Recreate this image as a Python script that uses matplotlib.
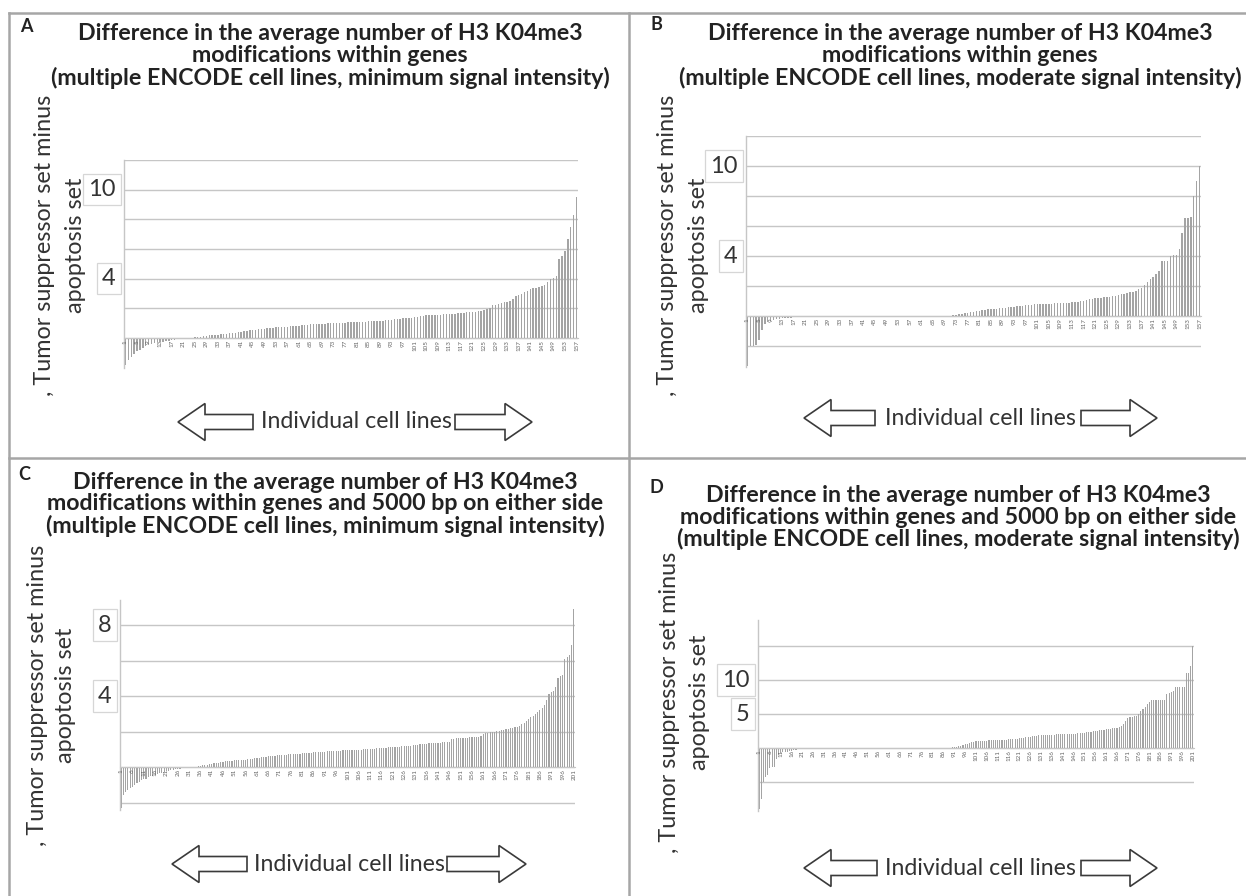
import matplotlib
matplotlib.use('Agg')
import matplotlib.pyplot as plt
from matplotlib.patches import Polygon
from matplotlib.lines import Line2D

W, H = 1246, 896
plt.rcParams['font.family'] = ['Lato', 'DejaVu Sans']

# --- data (sorted differences per cell line) ---
vals_a = [
    -1.8, -1.5, -1.25, -1.05, -0.9, -0.78, -0.65, -0.55, -0.45, -0.38,
    -0.33, -0.3, -0.27, -0.24, -0.21, -0.18, -0.15, -0.12, -0.09, -0.07,
    -0.05, -0.03, -0.01, 0.02, 0.05, 0.08, 0.1, 0.12, 0.15, 0.17,
    0.19, 0.21, 0.23, 0.25, 0.27, 0.29, 0.31, 0.33, 0.36, 0.39,
    0.42, 0.45, 0.48, 0.51, 0.54, 0.57, 0.6, 0.62, 0.64, 0.66,
    0.68, 0.7, 0.72, 0.73, 0.74, 0.76, 0.77, 0.78, 0.8, 0.82,
    0.84, 0.86, 0.88, 0.9, 0.92, 0.93, 0.94, 0.95, 0.96, 0.97,
    0.98, 0.99, 1.0, 1.01, 1.02, 1.03, 1.04, 1.05, 1.06, 1.07,
    1.08, 1.09, 1.1, 1.11, 1.12, 1.13, 1.14, 1.15, 1.16, 1.18,
    1.2, 1.22, 1.24, 1.26, 1.28, 1.3, 1.32, 1.34, 1.36, 1.38,
    1.4, 1.43, 1.46, 1.49, 1.52, 1.54, 1.55, 1.56, 1.57, 1.58,
    1.59, 1.6, 1.61, 1.63, 1.65, 1.67, 1.69, 1.71, 1.72, 1.74,
    1.76, 1.78, 1.8, 1.85, 1.9, 1.95, 2.0, 2.2, 2.25, 2.3,
    2.35, 2.4, 2.45, 2.5, 2.6, 2.85, 2.9, 2.95, 3.1, 3.2,
    3.3, 3.35, 3.4, 3.45, 3.5, 3.55, 3.8, 3.95, 4.05, 4.2,
    5.3, 5.5, 5.9, 6.7, 7.5, 8.3, 9.5,
]
vals_b = [
    -3.3, -2.0, -2.0, -1.95, -1.6, -0.95, -0.5, -0.38, -0.3, -0.25,
    -0.22, -0.18, -0.15, -0.13, -0.12, -0.1, -0.08, -0.06, -0.05, -0.04,
    -0.03, -0.03, -0.02, -0.02, -0.02, -0.02, -0.01, -0.01, -0.01, -0.01,
    -0.01, -0.01, -0.01, -0.01, -0.01, -0.01, -0.01, -0.01, -0.01, -0.01,
    -0.01, -0.01, -0.01, -0.01, -0.01, -0.01, -0.01, -0.01, -0.01, -0.01,
    0.0, 0.0, 0.0, 0.0, 0.0, 0.0, 0.0, 0.0, 0.0, 0.0,
    0.0, 0.0, 0.0, 0.0, 0.0, 0.0, 0.0, 0.0, 0.0, 0.01,
    0.02, 0.05, 0.1, 0.13, 0.16, 0.19, 0.22, 0.25, 0.28, 0.32,
    0.36, 0.4, 0.42, 0.44, 0.46, 0.48, 0.5, 0.52, 0.53, 0.55,
    0.57, 0.6, 0.63, 0.66, 0.68, 0.7, 0.72, 0.74, 0.75, 0.77,
    0.78, 0.79, 0.8, 0.81, 0.82, 0.83, 0.84, 0.85, 0.87, 0.88,
    0.89, 0.9, 0.92, 0.93, 0.95, 0.98, 1.02, 1.08, 1.14, 1.16,
    1.18, 1.2, 1.22, 1.24, 1.27, 1.3, 1.33, 1.36, 1.4, 1.44,
    1.48, 1.52, 1.57, 1.62, 1.68, 1.8, 1.9, 2.1, 2.3, 2.45,
    2.6, 2.8, 3.0, 3.65, 3.65, 3.7, 4.0, 4.05, 4.1, 4.45,
    5.5, 6.5, 6.55, 6.6, 8.0, 9.0, 10.0,
]
vals_c = [
    -2.3, -1.6, -1.4, -1.3, -1.2, -1.1, -1.0, -0.9, -0.82, -0.75,
    -0.7, -0.65, -0.56, -0.52, -0.48, -0.44, -0.4, -0.36, -0.32, -0.28,
    -0.25, -0.22, -0.19, -0.17, -0.14, -0.12, -0.1, -0.08, -0.06, -0.04,
    -0.02, -0.01, 0.0, 0.02, 0.04, 0.06, 0.09, 0.11, 0.13, 0.16,
    0.18, 0.2, 0.22, 0.25, 0.28, 0.3, 0.32, 0.34, 0.35, 0.36,
    0.37, 0.38, 0.39, 0.4, 0.41, 0.42, 0.43, 0.45, 0.47, 0.49,
    0.51, 0.53, 0.55, 0.56, 0.58, 0.6, 0.62, 0.63, 0.64, 0.65,
    0.66, 0.67, 0.68, 0.7, 0.71, 0.72, 0.73, 0.74, 0.75, 0.76,
    0.77, 0.78, 0.79, 0.8, 0.81, 0.82, 0.83, 0.84, 0.85, 0.86,
    0.87, 0.88, 0.89, 0.9, 0.9, 0.91, 0.91, 0.92, 0.93, 0.93,
    0.94, 0.95, 0.95, 0.96, 0.97, 0.98, 0.98, 0.99, 1.0, 1.01,
    1.02, 1.03, 1.04, 1.05, 1.06, 1.07, 1.08, 1.09, 1.1, 1.11,
    1.12, 1.13, 1.14, 1.15, 1.16, 1.17, 1.18, 1.19, 1.2, 1.22,
    1.24, 1.26, 1.28, 1.3, 1.31, 1.32, 1.33, 1.34, 1.35, 1.36,
    1.37, 1.38, 1.39, 1.4, 1.41, 1.42, 1.58, 1.6, 1.61, 1.62,
    1.63, 1.64, 1.65, 1.66, 1.67, 1.68, 1.69, 1.7, 1.71, 1.72,
    1.85, 1.9, 1.93, 1.96, 1.98, 2.0, 2.03, 2.05, 2.07, 2.1,
    2.12, 2.15, 2.18, 2.2, 2.23, 2.26, 2.3, 2.4, 2.5, 2.6,
    2.7, 2.8, 2.9, 3.0, 3.1, 3.2, 3.3, 3.5, 3.8, 4.1,
    4.2, 4.3, 4.5, 5.0, 5.1, 5.2, 6.1, 6.2, 6.3, 6.9,
    8.9,
]
vals_d = [
    -9.0, -7.5, -5.0, -4.2, -4.0, -3.0, -2.8, -2.8, -1.6, -1.1,
    -0.8, -0.6, -0.6, -0.55, -0.5, -0.45, -0.3, -0.25, -0.2, -0.2,
    -0.18, -0.17, -0.16, -0.15, -0.15, -0.14, -0.14, -0.13, -0.13, -0.12,
    -0.12, -0.11, -0.11, -0.1, -0.1, -0.1, -0.09, -0.09, -0.09, -0.08,
    -0.08, -0.08, -0.07, -0.07, -0.07, -0.06, -0.06, -0.06, -0.05, -0.05,
    -0.05, -0.05, -0.04, -0.04, -0.04, -0.04, -0.03, -0.03, -0.03, -0.03,
    -0.02, -0.02, -0.02, -0.02, -0.02, -0.02, -0.02, -0.02, -0.02, -0.02,
    -0.02, -0.02, -0.01, -0.01, -0.01, -0.01, -0.01, -0.01, -0.01, -0.01,
    -0.01, -0.01, 0.0, 0.0, 0.0, 0.0, 0.02, 0.04, 0.06, 0.1,
    0.15, 0.2, 0.25, 0.35, 0.45, 0.55, 0.65, 0.75, 0.85, 0.95,
    1.0, 1.02, 1.04, 1.06, 1.08, 1.1, 1.12, 1.13, 1.14, 1.15,
    1.17, 1.19, 1.21, 1.23, 1.25, 1.27, 1.29, 1.31, 1.33, 1.36,
    1.4, 1.45, 1.5, 1.55, 1.6, 1.65, 1.7, 1.75, 1.8, 1.85,
    1.9, 1.92, 1.94, 1.95, 1.96, 1.97, 1.98, 1.99, 2.0, 2.0,
    2.01, 2.02, 2.04, 2.06, 2.08, 2.1, 2.12, 2.14, 2.16, 2.2,
    2.25, 2.3, 2.35, 2.4, 2.45, 2.5, 2.55, 2.6, 2.65, 2.7,
    2.75, 2.8, 2.85, 2.9, 2.95, 3.0, 3.1, 3.2, 3.5, 4.0,
    4.4, 4.6, 4.6, 4.65, 4.7, 5.0, 5.4, 5.8, 6.1, 6.5,
    6.8, 7.0, 7.0, 7.0, 7.0, 7.0, 7.0, 7.1, 8.0, 8.1,
    8.2, 8.4, 9.0, 9.0, 9.0, 9.0, 9.0, 11.0, 11.1, 12.0,
    15.0,
]

titles = {
    'A': ['Difference in the average number of H3 K04me3',
          'modifications within genes',
          '(multiple ENCODE cell lines, minimum signal intensity)'],
    'B': ['Difference in the average number of H3 K04me3',
          'modifications within genes',
          '(multiple ENCODE cell lines, moderate signal intensity)'],
    'C': ['Difference in the average number of H3 K04me3',
          'modifications within genes and 5000 bp on either side',
          '(multiple ENCODE cell lines, minimum signal intensity)'],
    'D': ['Difference in the average number of H3 K04me3',
          'modifications within genes and 5000 bp on either side',
          '(multiple ENCODE cell lines, moderate signal intensity)'],
}
ylabel_1 = ', Tumor suppressor set minus'
ylabel_2 = 'apoptosis set'
xlabel = 'Individual cell lines'

# y gridlines and the two boxed labels per panel
grids = {
    'A': [0, 2, 4, 6, 8, 10, 12],
    'B': [-2, 0, 2, 4, 6, 8, 10, 12],
    'C': [-2, 0, 2, 4, 6, 8],
    'D': [-5, 0, 5, 10, 15],
}
box_labels = {'A': [10, 4], 'B': [10, 4], 'C': [8, 4], 'D': [10, 5]}
tick_step = {'A': 4, 'B': 4, 'C': 5, 'D': 5}
series = {'A': vals_a, 'B': vals_b, 'C': vals_c, 'D': vals_d}

# --- layout in pixels (x from left, y from top) ---
layout = {
    'A': dict(left=124, right=578, ylim=(-2.0, 12), zero=338, ppu=14.83,
              letter=(26, 26), title_y=(34, 56, 78), title_x=330,
              yl=(45, 75, 245), arrow=(178, 253, 455, 532, 422), text_x=356),
    'B': dict(left=746, right=1201, ylim=(-3.4, 12), zero=316, ppu=15.0,
              letter=(656, 24), title_y=(34, 56, 78), title_x=960,
              yl=(668, 698, 245), arrow=(804, 875, 1081, 1157, 418), text_x=980),
    'C': dict(left=120, right=575, ylim=(-2.4, 9.4), zero=767, ppu=17.75,
              letter=(24, 474), title_y=(482, 504, 526), title_x=325,
              yl=(38, 66, 695), arrow=(172, 247, 447, 526, 864), text_x=349),
    'D': dict(left=758, right=1194, ylim=(-9.3, 18.8), zero=748, ppu=6.8,
              letter=(656, 487), title_y=(495, 517, 539), title_x=958,
              yl=(670, 700, 702), arrow=(804, 877, 1081, 1157, 868), text_x=980),
}

fig = plt.figure(figsize=(W / 100, H / 100), dpi=100)
fig.patch.set_facecolor('white')
renderer = fig.canvas.get_renderer()


def fx(x):
    return x / W


def fy(y):
    return 1 - y / H


def fit(t, target, vertical=False):
    bb = t.get_window_extent(renderer)
    cur = bb.height if vertical else bb.width
    t.set_fontsize(t.get_fontsize() * target / cur)
    return t.get_fontsize()


def block_arrow(x_tip, x_tail, yc, body=15, head=37, head_len=27):
    d = 1 if x_tail > x_tip else -1
    xs = x_tip + d * head_len
    pts = [(x_tip, yc), (xs, yc - head / 2), (xs, yc - body / 2),
           (x_tail, yc - body / 2), (x_tail, yc + body / 2),
           (xs, yc + body / 2), (xs, yc + head / 2)]
    poly = Polygon([(fx(x), fy(y)) for x, y in pts], closed=True,
                   transform=fig.transFigure, facecolor='white',
                   edgecolor='#3a3a3a', linewidth=1.2, joinstyle='miter')
    fig.add_artist(poly)


# font sizes fitted once to the measured widths
probe = fig.text(0, 0, titles['A'][0], fontweight='bold')
title_fs = fit(probe, 504)
probe.remove()
probe = fig.text(0, 0, ylabel_1, rotation=90)
ylab_fs = fit(probe, 302, vertical=True)
probe.remove()
probe = fig.text(0, 0, xlabel)
xlab_fs = fit(probe, 190)
probe.remove()

grid_col = '#c6c6c6'
for key in ['A', 'B', 'C', 'D']:
    L = layout[key]
    vals = series[key]
    n = len(vals)
    y0, y1 = L['ylim']
    top = L['zero'] - y1 * L['ppu']
    bottom = L['zero'] - y0 * L['ppu']
    ax = fig.add_axes([fx(L['left']), fy(bottom),
                       (L['right'] - L['left']) / W, (bottom - top) / H])
    ax.bar(range(1, n + 1), vals, width=0.5, color='#a4a4a4',
           linewidth=0, zorder=2)
    ax.set_xlim(0.5, n + 0.5)
    ax.set_ylim(y0, y1)
    ax.set_yticks(grids[key])
    ax.tick_params(axis='y', length=0, labelleft=False)
    ax.grid(axis='y', color=grid_col, linewidth=1.0)
    ax.set_axisbelow(True)
    ax.xaxis.set_zorder(3)
    ticks = list(range(1, n + 1, tick_step[key]))
    ax.set_xticks(ticks)
    ax.set_xticklabels([str(t) for t in ticks])
    ax.tick_params(axis='x', length=0, pad=1.5, labelrotation=90,
                   labelsize=4.5, labelcolor='#666666')
    for s in ['top', 'right']:
        ax.spines[s].set_visible(False)
    ax.spines['bottom'].set_position(('data', 0))
    ax.spines['bottom'].set_color(grid_col)
    ax.spines['left'].set_color(grid_col)
    ax.spines['left'].set_linewidth(1.0)

    for v in box_labels[key]:
        ax.annotate(str(v), xy=(0, v), xycoords=ax.get_yaxis_transform(),
                    xytext=(-6, 0), textcoords='offset points',
                    ha='right', va='center', fontsize=17, color='#333333',
                    annotation_clip=False,
                    bbox=dict(boxstyle='square,pad=0.22', fc='white',
                              ec='#d6d6d6', lw=0.9))

    # panel letter and title
    fig.text(fx(L['letter'][0]), fy(L['letter'][1]), key, fontsize=13,
             fontweight='bold', color='#222222', ha='center', va='center')
    for line, ty in zip(titles[key], L['title_y']):
        fig.text(fx(L['title_x']), fy(ty), line, fontsize=title_fs,
                 fontweight='bold', color='#222222', ha='center', va='center')

    # y label (two lines)
    xa, xb, yc = L['yl']
    fig.text(fx(xa), fy(yc), ylabel_1, rotation=90, fontsize=ylab_fs,
             color='#333333', ha='center', va='center')
    fig.text(fx(xb), fy(yc), ylabel_2, rotation=90, fontsize=ylab_fs,
             color='#333333', ha='center', va='center')

    # arrows with the x label
    la, lb, ra, rb, ay = L['arrow']
    block_arrow(la, lb, ay)
    block_arrow(rb, ra, ay)
    fig.text(fx(L['text_x']), fy(ay), xlabel, fontsize=xlab_fs,
             color='#333333', ha='center', va='center')

# panel frame lines
frame = '#a6a6a6'
for (xa, ya, xb, yb) in [(9, 13, W, 13), (9, 458, W, 458),
                         (9, 13, 9, H), (629, 13, 629, H)]:
    fig.add_artist(Line2D([fx(xa), fx(xb)], [fy(ya), fy(yb)],
                          transform=fig.transFigure, color=frame, lw=1.8))

fig.savefig('out.png', dpi=100, facecolor='white')
